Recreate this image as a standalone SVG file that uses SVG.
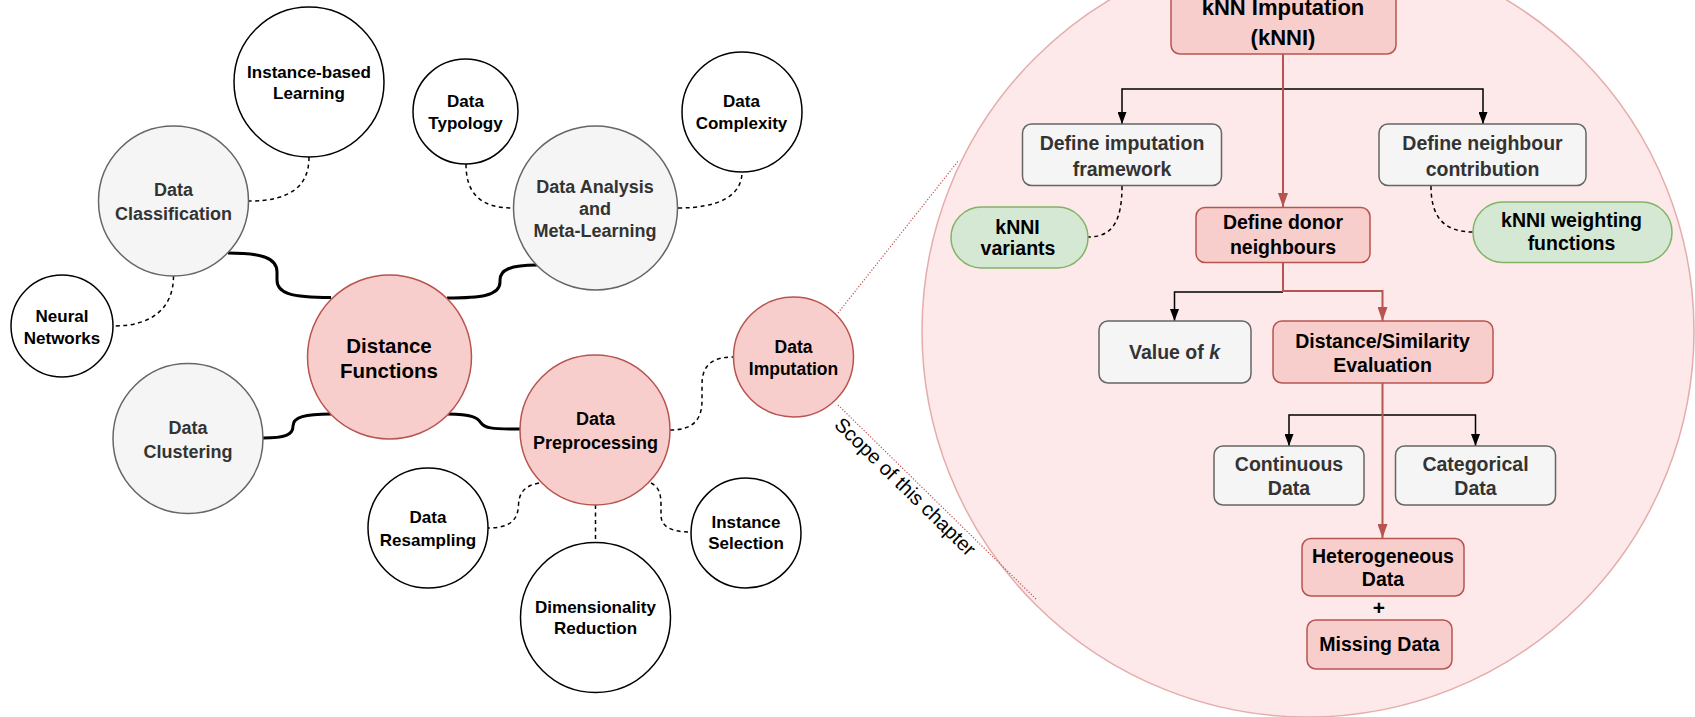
<svg xmlns="http://www.w3.org/2000/svg" width="1695" height="717" viewBox="0 0 1695 717">
  <style>
    text { font-family: "Liberation Sans", Arial, Helvetica, sans-serif; font-weight: bold; text-anchor: middle; }
    .plain { fill: #ffffff; stroke: #000000; stroke-width: 1.5; }
    .grey { fill: #f5f5f5; stroke: #666666; stroke-width: 1.5; }
    .pink { fill: #f8cecc; stroke: #b85450; stroke-width: 1.5; }
    .green { fill: #d5e8d4; stroke: #82b366; stroke-width: 1.5; }
    .t-dark { fill: #000000; }
    .t-grey { fill: #333333; }
    .f17 { font-size: 17px; }
    .f18 { font-size: 18px; }
    .fr { font-size: 19.5px; }
    .note { font-family: "Liberation Sans", Arial, Helvetica, sans-serif; font-weight: normal; font-size: 20px; fill: #000000; }
    .solid { fill: none; stroke: #000000; stroke-width: 3; }
    .dash { fill: none; stroke: #000000; stroke-width: 1.5; stroke-dasharray: 4 3.5; }
    .scope { fill: none; stroke: #c0504d; stroke-width: 1.2; stroke-dasharray: 1.2 1.8; }
    .flow-red { fill: none; stroke: #b85450; stroke-width: 2; }
    .flow-black { fill: none; stroke: #000000; stroke-width: 1.5; }
  </style>
  <defs>
    <marker id="arrow-red" markerUnits="userSpaceOnUse" markerWidth="14" markerHeight="10" refX="14" refY="5" orient="auto">
      <path d="M0,0 L14,5 L0,10 z" fill="#b85450"/>
    </marker>
    <marker id="arrow-black" markerUnits="userSpaceOnUse" markerWidth="12" markerHeight="9" refX="12" refY="4.5" orient="auto">
      <path d="M0,0 L12,4.5 L0,9 z" fill="#000000"/>
    </marker>
  </defs>

  <rect width="1695" height="717" fill="#ffffff"/>

  <!-- magnified scope: kNN imputation -->
  <g id="scope-area">
    <circle cx="1308" cy="331" r="386" fill="#fde9e9" stroke="#e4adab" stroke-width="1.5"/>
  </g>

  <!-- connectors -->
  <g id="connectors">
    <!-- solid links from Distance Functions -->
    <path class="solid" d="M228,253 C262,253 277,258 277,272 L277,280 C277,293 290,297.5 331,297.5"/>
    <path class="solid" d="M447,298 C480,298 500,296 500,282 L500,280 C500,270 510,265 537,265"/>
    <path class="solid" d="M331,414 C305,414 293,417 293,426 C293,435 285,438 263,438"/>
    <path class="solid" d="M448,414 C472,414 478,418 481,423 C485,428 490,429 520,429"/>

    <!-- dashed links -->
    <path class="dash" d="M309,157 C309,185 292,201 249,201"/>
    <path class="dash" d="M173.5,276 C173.5,308 152,326 114,326"/>
    <path class="dash" d="M466,164 C466,195 482,208 513,208"/>
    <path class="dash" d="M678,208 C720,208 742,195 742,172"/>
    <path class="dash" d="M670,430 C695,430 702,418 702,400 L702,385 C702,365 712,357 733.5,357"/>
    <path class="dash" d="M539,483 C524,486 519,493 518.5,505 C518,520 510,528 488,528"/>
    <path class="dash" d="M595.5,505 V543"/>
    <path class="dash" d="M651,483 C659,487 661,494 661,505 L661,515 C661,526 670,532 691,532"/>
    <path class="dash" d="M1122,186 C1122,222 1112,237 1088,237"/>
    <path class="dash" d="M1431,186 C1431,215 1442,232 1473,232"/>

    <!-- scope guide lines -->
    <path class="scope" d="M838,313 L959,160"/>
    <path class="scope" d="M838,405 L1037,600"/>

    <!-- kNNI flow -->
    <path class="flow-black" d="M1283,89 H1122 V124" marker-end="url(#arrow-black)"/>
    <path class="flow-black" d="M1283,89 H1483 V124" marker-end="url(#arrow-black)"/>
    <path class="flow-red" d="M1283,54 V207" marker-end="url(#arrow-red)"/>
    <path class="flow-black" d="M1283,292 H1174.5 V321" marker-end="url(#arrow-black)"/>
    <path class="flow-red" d="M1283,262 V291 H1382.5 V321" marker-end="url(#arrow-red)"/>
    <path class="flow-black" d="M1382.5,415 H1289 V446" marker-end="url(#arrow-black)"/>
    <path class="flow-black" d="M1382.5,415 H1475.5 V446" marker-end="url(#arrow-black)"/>
    <path class="flow-red" d="M1382.5,383 V538" marker-end="url(#arrow-red)"/>
  </g>

  <text class="note" x="0" y="0" transform="translate(900.5,491.5) rotate(44.3)">Scope of this chapter</text>

  <!-- mind-map nodes -->
  <g id="instance-based-learning">
    <circle class="plain" cx="309" cy="82" r="75"/>
    <text class="t-dark f17" x="309" y="77.8">Instance-based</text>
    <text class="t-dark f17" x="309" y="99.4">Learning</text>
  </g>
  <g id="data-typology">
    <circle class="plain" cx="465.5" cy="111.5" r="52.5"/>
    <text class="t-dark f17" x="465.5" y="106.8">Data</text>
    <text class="t-dark f17" x="465.5" y="128.8">Typology</text>
  </g>
  <g id="data-classification">
    <circle class="grey" cx="173.5" cy="201" r="75"/>
    <text class="t-grey f18" x="173.5" y="195.7">Data</text>
    <text class="t-grey f18" x="173.5" y="219.7">Classification</text>
  </g>
  <g id="neural-networks">
    <circle class="plain" cx="62" cy="326" r="51"/>
    <text class="t-dark f17" x="62" y="322.1">Neural</text>
    <text class="t-dark f17" x="62" y="343.8">Networks</text>
  </g>
  <g id="distance-functions">
    <circle class="pink" cx="389.5" cy="357" r="82"/>
    <text class="t-dark" style="font-size:20.5px" x="389" y="353.3">Distance</text>
    <text class="t-dark" style="font-size:20.5px" x="389" y="377.6">Functions</text>
  </g>
  <g id="data-clustering">
    <circle class="grey" cx="188" cy="438.5" r="75"/>
    <text class="t-grey f18" x="188" y="433.7">Data</text>
    <text class="t-grey f18" x="188" y="458.1">Clustering</text>
  </g>
  <g id="data-analysis">
    <circle class="grey" cx="595.5" cy="208" r="82"/>
    <text class="t-grey f18" x="595" y="193.1">Data Analysis</text>
    <text class="t-grey f18" x="595" y="214.9">and</text>
    <text class="t-grey f18" x="595" y="237.1">Meta-Learning</text>
  </g>
  <g id="data-complexity">
    <circle class="plain" cx="742" cy="112" r="60"/>
    <text class="t-dark f17" x="741.5" y="106.8">Data</text>
    <text class="t-dark f17" x="741.5" y="129.4">Complexity</text>
  </g>
  <g id="data-imputation">
    <circle class="pink" cx="793.5" cy="357" r="60"/>
    <text class="t-dark" style="font-size:17.5px" x="793.5" y="353">Data</text>
    <text class="t-dark" style="font-size:17.5px" x="793.5" y="375">Imputation</text>
  </g>
  <g id="data-preprocessing">
    <circle class="pink" cx="595" cy="430" r="75"/>
    <text class="t-dark f18" x="595.5" y="424.7">Data</text>
    <text class="t-dark f18" x="595.5" y="449.1">Preprocessing</text>
  </g>
  <g id="data-resampling">
    <circle class="plain" cx="428" cy="528" r="60"/>
    <text class="t-dark f17" x="428" y="522.8">Data</text>
    <text class="t-dark f17" x="428" y="546.1">Resampling</text>
  </g>
  <g id="dimensionality-reduction">
    <circle class="plain" cx="595.5" cy="617.5" r="75"/>
    <text class="t-dark f17" x="595.5" y="612.8">Dimensionality</text>
    <text class="t-dark f17" x="595.5" y="634.4">Reduction</text>
  </g>
  <g id="instance-selection">
    <circle class="plain" cx="746" cy="533" r="55"/>
    <text class="t-dark f17" x="746" y="528.4">Instance</text>
    <text class="t-dark f17" x="746" y="549.4">Selection</text>
  </g>

  <!-- kNN imputation breakdown -->
  <g id="knni">
    <rect class="pink" x="1171" y="-12" width="225" height="66" rx="9"/>
    <text class="t-dark" style="font-size:22px" x="1283" y="15">kNN Imputation</text>
    <text class="t-dark" style="font-size:22px" x="1283" y="45">(kNNI)</text>
  </g>
  <g id="define-framework">
    <rect class="grey" x="1022.5" y="124" width="199" height="61.5" rx="9"/>
    <text class="t-grey fr" x="1122" y="150.3">Define imputation</text>
    <text class="t-grey fr" x="1122" y="175.5">framework</text>
  </g>
  <g id="define-contribution">
    <rect class="grey" x="1379" y="124" width="207" height="61.5" rx="9"/>
    <text class="t-grey fr" x="1482.5" y="150.3">Define neighbour</text>
    <text class="t-grey fr" x="1482.5" y="176">contribution</text>
  </g>
  <g id="define-donors">
    <rect class="pink" x="1196" y="207.5" width="174" height="55" rx="9"/>
    <text class="t-dark fr" x="1283" y="228.7">Define donor</text>
    <text class="t-dark fr" x="1283" y="254.3">neighbours</text>
  </g>
  <g id="knni-variants">
    <rect class="green" x="951" y="207" width="137" height="61" rx="30.5"/>
    <text class="t-dark fr" x="1017.5" y="233.7">kNNI</text>
    <text class="t-dark fr" x="1018" y="255.3">variants</text>
  </g>
  <g id="knni-weighting">
    <rect class="green" x="1473" y="202" width="199" height="60.5" rx="30"/>
    <text class="t-dark fr" x="1571.5" y="227">kNNI weighting</text>
    <text class="t-dark fr" x="1571.5" y="250.3">functions</text>
  </g>
  <g id="value-of-k">
    <rect class="grey" x="1099" y="321" width="152" height="62" rx="9"/>
    <text class="t-grey fr" x="1174.5" y="359.3">Value of <tspan style="font-style:italic">k</tspan></text>
  </g>
  <g id="distance-similarity">
    <rect class="pink" x="1273" y="321" width="220" height="62" rx="9"/>
    <text class="t-dark fr" x="1382.5" y="348">Distance/Similarity</text>
    <text class="t-dark fr" x="1382.5" y="371.7">Evaluation</text>
  </g>
  <g id="continuous-data">
    <rect class="grey" x="1214" y="446" width="150" height="59" rx="9"/>
    <text class="t-grey fr" x="1289" y="471.3">Continuous</text>
    <text class="t-grey fr" x="1289" y="495.3">Data</text>
  </g>
  <g id="categorical-data">
    <rect class="grey" x="1395.5" y="446" width="160" height="59" rx="9"/>
    <text class="t-grey fr" x="1475.5" y="471.3">Categorical</text>
    <text class="t-grey fr" x="1475.5" y="495.3">Data</text>
  </g>
  <g id="heterogeneous-data">
    <rect class="pink" x="1302" y="538.5" width="162" height="57.5" rx="9"/>
    <text class="t-dark fr" x="1383" y="562.7">Heterogeneous</text>
    <text class="t-dark fr" x="1383" y="586.3">Data</text>
  </g>
  <text class="t-dark" style="font-size:21px" x="1379" y="614.5">+</text>
  <g id="missing-data">
    <rect class="pink" x="1307" y="620" width="145" height="49" rx="9"/>
    <text class="t-dark fr" x="1379.5" y="651.3">Missing Data</text>
  </g>
</svg>
